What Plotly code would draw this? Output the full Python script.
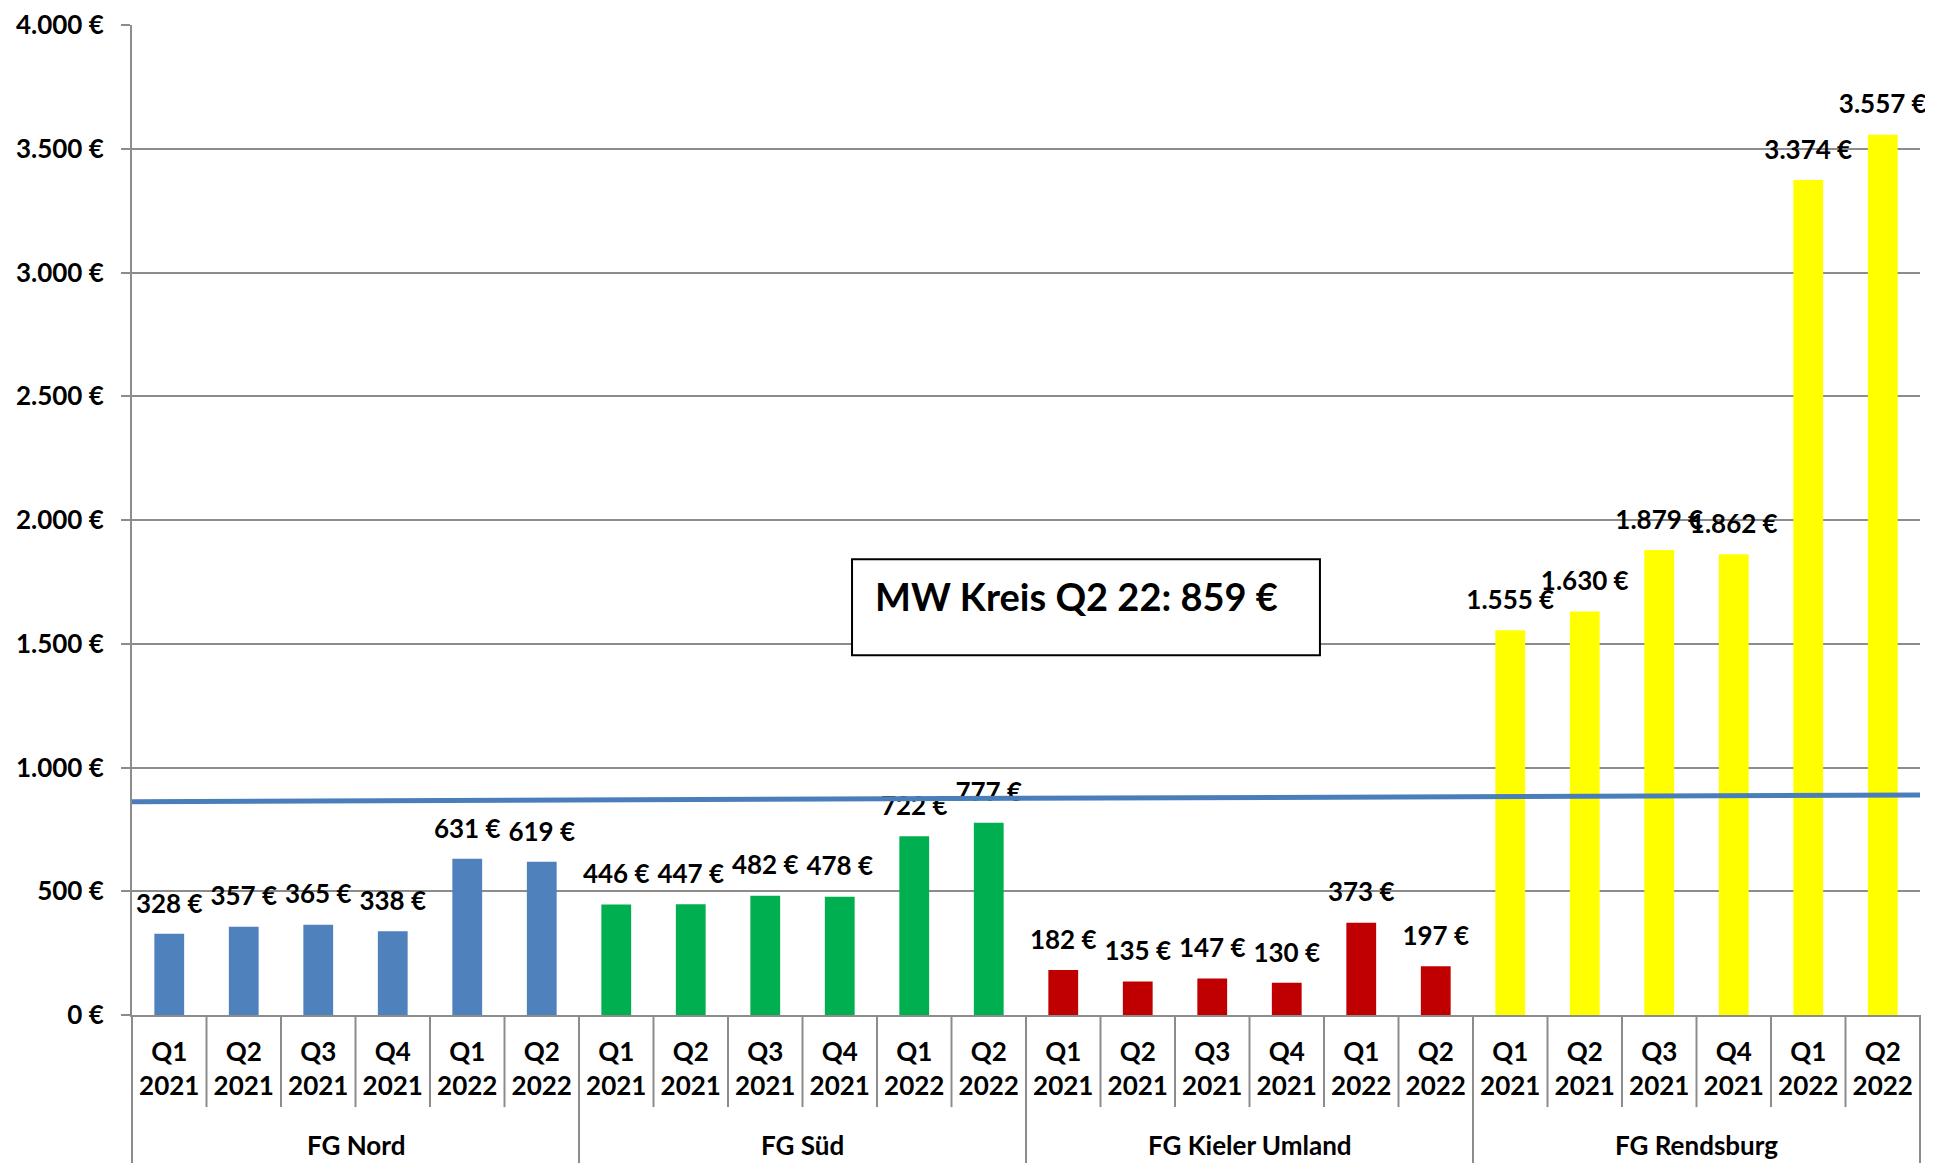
import plotly.graph_objects as go

groups = ["FG Nord", "FG Süd", "FG Kieler Umland", "FG Rendsburg"]
quarters = ["Q1<br>2021", "Q2<br>2021", "Q3<br>2021", "Q4<br>2021", "Q1<br>2022", "Q2<br>2022"]
nord = [328, 357, 365, 338, 631, 619]
sued = [446, 447, 482, 478, 722, 777]
kiel = [182, 135, 147, 130, 373, 197]
rendsburg = [1555, 1630, 1879, 1862, 3374, 3557]
series = [nord, sued, kiel, rendsburg]
colors = ["#4F81BD", "#00B050", "#C00000", "#FFFF00"]

mw_text = "MW Kreis Q2 22: 859 €"
mw_line_y = [862, 889]

y_ticks = [0, 500, 1000, 1500, 2000, 2500, 3000, 3500, 4000]

FONT = "Lato"
GRID = "#8C8C8C"


def eur(v):
    return f"{v:,}".replace(",", ".") + " €"


n_q = len(quarters)
fig = go.Figure()

all_x, all_y, all_t = [], [], []
for g, (vals, col) in enumerate(zip(series, colors)):
    xs = [g * n_q + i for i in range(len(vals))]
    fig.add_trace(go.Bar(x=xs, y=vals, marker=dict(color=col, line=dict(width=0)),
                         hoverinfo="skip", showlegend=False))
    all_x += xs
    all_y += vals
    all_t += [eur(v) for v in vals]

# value labels
fig.add_trace(go.Scatter(
    x=all_x, y=all_y, mode="markers+text", text=all_t, textposition="top center",
    marker=dict(size=22, color="rgba(0,0,0,0)"),
    textfont=dict(family=FONT, size=26, color="black", weight="bold"),
    cliponaxis=False, hoverinfo="skip", showlegend=False))

n_total = n_q * len(groups)
# mean line
fig.add_trace(go.Scatter(
    x=[-0.5, n_total - 0.5], y=mw_line_y, mode="lines",
    line=dict(color="#4A7EBB", width=5), hoverinfo="skip", showlegend=False))

shapes = []
for b in range(n_total + 1):
    is_group = (b % n_q == 0)
    shapes.append(dict(type="line", xref="x domain", yref="paper",
                       x0=b / n_total, x1=b / n_total, y0=0,
                       y1=-0.16 if is_group else -0.093,
                       line=dict(color=GRID, width=2)))
# MW box
shapes.append(dict(type="rect", xref="paper", yref="paper",
                   x0=0.4027, x1=0.6644, y0=0.3635, y1=0.4604,
                   line=dict(color="black", width=2), fillcolor="white", layer="above"))

annotations = []
for g, name in enumerate(groups):
    annotations.append(dict(x=g * n_q + (n_q - 1) / 2, xref="x", y=-0.1313, yref="paper",
                            text=name, showarrow=False, yanchor="middle",
                            font=dict(family=FONT, size=26, color="black", weight="bold")))
annotations.append(dict(x=0.4144, xref="paper", y=0.4231, yref="paper", text=mw_text,
                        showarrow=False, xanchor="left", yanchor="middle",
                        font=dict(family=FONT, size=38, color="black", weight="bold")))

fig.update_layout(
    width=1925, height=1155,
    margin=dict(l=124, r=13, t=17, b=148, autoexpand=False),
    plot_bgcolor="white", paper_bgcolor="white",
    separators=",.",
    bargap=0.6,
    showlegend=False,
    shapes=shapes,
    annotations=annotations,
    xaxis=dict(
        range=[-0.5, n_total - 0.5],
        tickmode="array",
        tickvals=list(range(n_total)),
        ticktext=quarters * len(groups),
        ticks="", showgrid=False, zeroline=False,
        showline=True, linecolor=GRID, linewidth=2,
        ticklabelstandoff=13, automargin=False,
        tickfont=dict(family=FONT, size=26, color="black", weight="bold"),
    ),
    yaxis=dict(
        range=[0, 4000],
        tickmode="array", tickvals=y_ticks,
        ticktext=[eur(v) for v in y_ticks],
        ticks="outside", ticklen=9, tickcolor=GRID, tickwidth=2,
        showgrid=True, gridcolor=GRID, gridwidth=2,
        zeroline=False, showline=True, linecolor=GRID, linewidth=2,
        ticklabelstandoff=12, automargin=False,
        tickfont=dict(family=FONT, size=26, color="black", weight="bold"),
    ),
)

fig.write_html("out.html")
